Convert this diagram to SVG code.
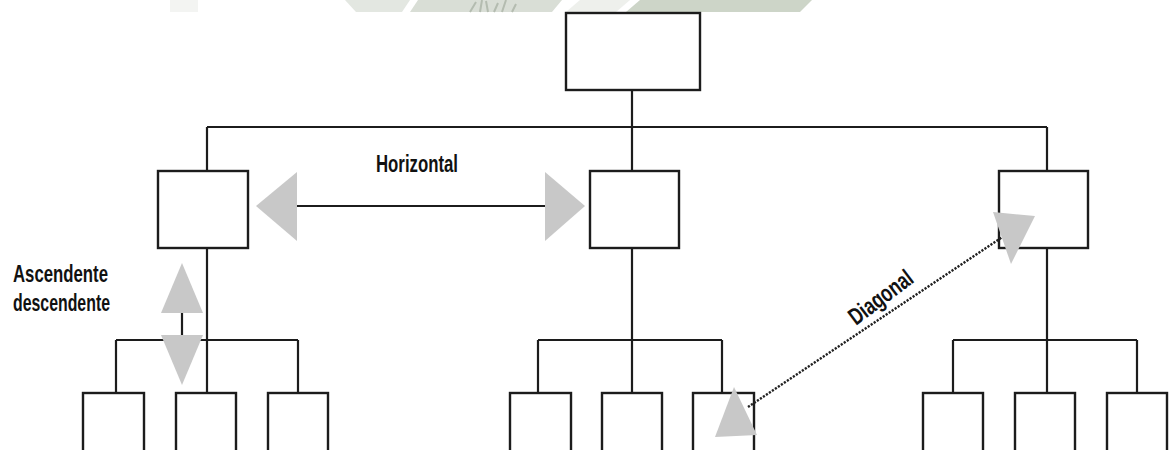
<svg xmlns="http://www.w3.org/2000/svg" width="1174" height="450" viewBox="0 0 1174 450">
  <style>
    .box { fill: #ffffff; stroke: #1c1c1c; stroke-width: 2.4; }
    .wire { fill: none; stroke: #1c1c1c; stroke-width: 2.2; }
    .dots { fill: none; stroke: #222222; stroke-width: 2.4; stroke-dasharray: 2.2 1.4; }
    .head { fill: #c8c8c8; stroke: none; }
    .label { font-family: "Liberation Sans", Arial, sans-serif; font-weight: bold; font-size: 24px; fill: #111111; }
  </style>

  <rect x="0" y="0" width="1174" height="450" fill="#ffffff"/>

  <!-- faded banner strip along the top edge -->
  <g id="banner">
    <rect x="170" y="0" width="28" height="12" fill="#f3f4f2"/>
    <polygon points="345,0 410,0 402,12 356,12" fill="#e3e7e1"/>
    <polygon points="418,0 562,0 552,12 410,12" fill="#d9ded6"/>
    <path d="M470,12 L476,2 M480,12 L482,0 M488,12 L486,1 M494,12 L498,3 M502,12 L506,0 M512,12 L516,4" stroke="#b4bcb0" stroke-width="2" fill="none"/>
    <polygon points="640,0 812,0 800,12 626,12" fill="#cdd5c8"/>
    <polygon points="580,0 630,0 616,12 566,12" fill="#eef0ec"/>
  </g>

  <!-- connectors -->
  <g id="connectors">
    <path class="wire" d="M632,90 V127 M207,127 H1047 M207,127 V171 M632,127 V171 M1047,127 V171"/>
    <path class="wire" d="M207,248 V393 M116,340 H298 M116,340 V393 M298,340 V393"/>
    <path class="wire" d="M632,248 V393 M538,340 H722 M538,340 V393 M722,340 V393"/>
    <path class="wire" d="M1047,248 V393 M953,340 H1137 M953,340 V393 M1137,340 V393"/>
  </g>

  <!-- top level -->
  <g id="n-root"><rect class="box" x="566" y="13" width="134" height="77"/></g>

  <!-- second level -->
  <g id="n-a"><rect class="box" x="158" y="171" width="90" height="77"/></g>
  <g id="n-b"><rect class="box" x="590" y="171" width="89" height="77"/></g>
  <g id="n-c"><rect class="box" x="999" y="171" width="89" height="77"/></g>

  <!-- third level -->
  <g id="n-a1"><rect class="box" x="83" y="393" width="61" height="70"/></g>
  <g id="n-a2"><rect class="box" x="176" y="393" width="60" height="70"/></g>
  <g id="n-a3"><rect class="box" x="268" y="393" width="60" height="70"/></g>
  <g id="n-b1"><rect class="box" x="510" y="393" width="61" height="70"/></g>
  <g id="n-b2"><rect class="box" x="602" y="393" width="60" height="70"/></g>
  <g id="n-b3"><rect class="box" x="693" y="393" width="61" height="70"/></g>
  <g id="n-c1"><rect class="box" x="923" y="393" width="60" height="70"/></g>
  <g id="n-c2"><rect class="box" x="1015" y="393" width="60" height="70"/></g>
  <g id="n-c3"><rect class="box" x="1107" y="393" width="60" height="70"/></g>

  <!-- horizontal relation -->
  <g id="rel-horizontal">
    <line class="wire" x1="297" y1="206" x2="545" y2="206"/>
    <polygon class="head" points="256,206 297,172 297,241"/>
    <polygon class="head" points="585,206 545,172 545,241"/>
    <text class="label" x="376" y="172" textLength="82" lengthAdjust="spacingAndGlyphs">Horizontal</text>
  </g>

  <!-- vertical relation -->
  <g id="rel-vertical">
    <line class="wire" x1="182" y1="312" x2="182" y2="336"/>
    <polygon class="head" points="182,263 161,313 203,313"/>
    <polygon class="head" points="182,385 161,335 203,335"/>
    <text class="label" x="13" y="282" textLength="95" lengthAdjust="spacingAndGlyphs">Ascendente</text>
    <text class="label" x="13" y="311" textLength="97" lengthAdjust="spacingAndGlyphs">descendente</text>
  </g>

  <!-- diagonal relation -->
  <g id="rel-diagonal">
    <line class="dots" x1="748" y1="407" x2="1004" y2="236"/>
    <polygon class="head" points="734,387 715,437 757,435"/>
    <polygon class="head" points="993,212 1035,216 1011,264"/>
    <text class="label" transform="translate(856,326) rotate(-37)" x="0" y="0" textLength="74" lengthAdjust="spacingAndGlyphs" font-size="22">Diagonal</text>
  </g>
</svg>
